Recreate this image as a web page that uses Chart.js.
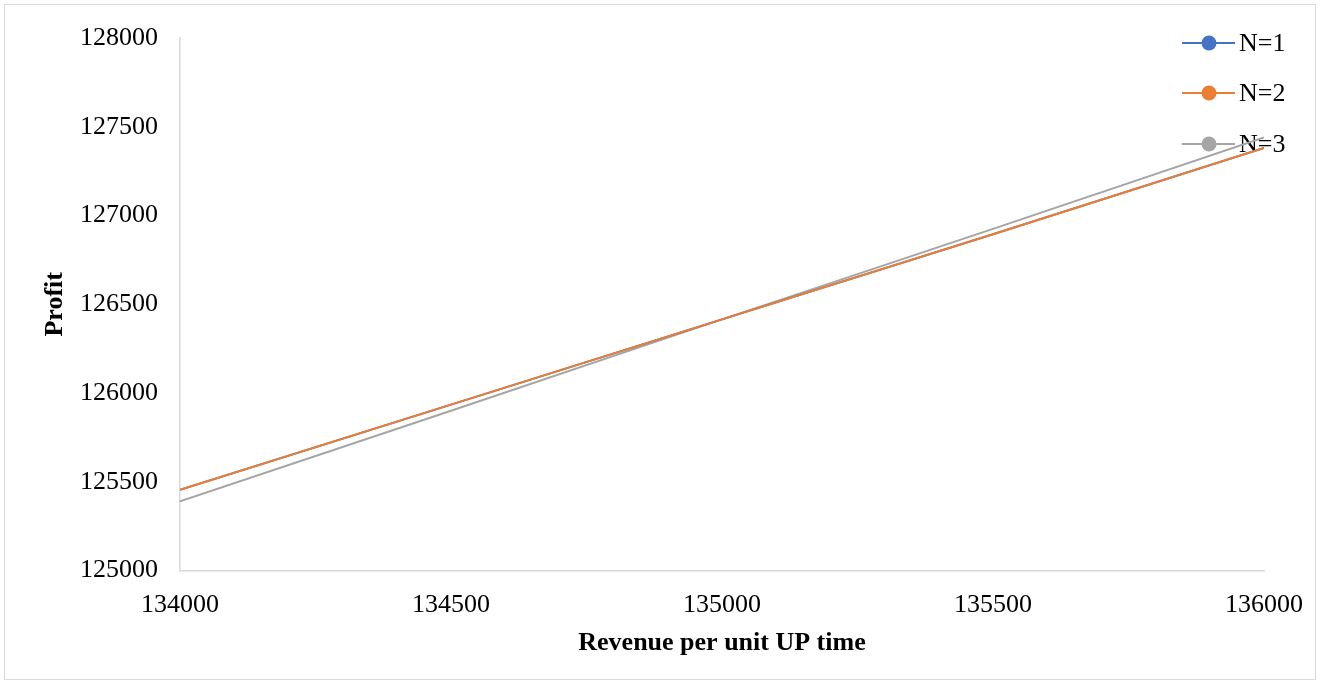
<!DOCTYPE html>
<html>
<head>
<meta charset="utf-8">
<script src="https://cdn.jsdelivr.net/npm/chart.js@4.4.1/dist/chart.umd.min.js"></script>
<style>
  html, body { margin: 0; padding: 0; background: #fff; }
  #wrap { position: relative; width: 1322px; height: 684px; }
  #frame { position: absolute; left: 4px; top: 4px; width: 1312px; height: 676px; border: 1px solid #d9d9d9; box-sizing: border-box; pointer-events: none; }
</style>
</head>
<body>
<div id="wrap">
  <canvas id="chart" width="1322" height="684"></canvas>
  <div id="frame"></div>
</div>
<script>
// revenue per unit UP time (x) and profit per policy
const revenue = [134000, 134500, 135000, 135500, 136000];
const profitN1 = [125455, 125935, 126415, 126895, 127380];
const profitN2 = [125455, 125935, 126415, 126895, 127380];
const profitN3 = [125390, 125900, 126415, 126925, 127440];

const seriesNames = ['N=1', 'N=2', 'N=3'];
const seriesColors = ['#4472c4', '#ed7d31', '#a5a5a5'];
const drawOrder = [1, 0, 2]; // N=2 ends up on top
const xTicks = [134000, 134500, 135000, 135500, 136000];
const yTicks = [125000, 125500, 126000, 126500, 127000, 127500, 128000];

const FONT = '"Liberation Serif", "Times New Roman", serif';
const FS = 26;

function toPoints(ys) {
    return revenue.map((x, i) => ({ x: x, y: ys[i] }));
}

// legend drawn inside the plot area, under the lines
const innerLegend = {
    id: 'innerLegend',
    beforeDatasetsDraw(chart) {
        const ctx = chart.ctx;
        const right = chart.chartArea.right;
        const rows = [43, 93, 144];
        ctx.save();
        seriesNames.forEach((name, i) => {
            const y = rows[i];
            ctx.strokeStyle = seriesColors[i];
            ctx.lineWidth = 2;
            ctx.beginPath();
            ctx.moveTo(right - 82, y);
            ctx.lineTo(right - 29, y);
            ctx.stroke();
            ctx.fillStyle = seriesColors[i];
            ctx.beginPath();
            ctx.arc(right - 55, y, 7.5, 0, Math.PI * 2);
            ctx.fill();
            ctx.fillStyle = '#000';
            ctx.font = FS + 'px ' + FONT;
            ctx.textBaseline = 'middle';
            ctx.textAlign = 'left';
            ctx.fillText(name, right - 25, y + 1);
        });
        ctx.restore();
    }
};

const datasets = [profitN1, profitN2, profitN3].map((ys, i) => ({
    label: seriesNames[i],
    data: toPoints(ys),
    order: drawOrder[i],
    borderColor: seriesColors[i],
    backgroundColor: seriesColors[i],
    borderWidth: 2,
    pointRadius: 0,
    tension: 0
}));

new Chart(document.getElementById('chart'), {
    type: 'line',
    data: { datasets: datasets },
    options: {
        responsive: false,
        animation: false,
        layout: { padding: { left: 40, right: 58, top: 38, bottom: 25 } },
        plugins: {
            legend: { display: false },
            tooltip: { enabled: false }
        },
        scales: {
            x: {
                type: 'linear',
                min: xTicks[0],
                max: xTicks[xTicks.length - 1],
                afterBuildTicks: axis => { axis.ticks = xTicks.map(v => ({ value: v })); },
                grid: { display: false, drawTicks: false },
                border: { color: '#d9d9d9', width: 1.5 },
                ticks: {
                    color: '#000',
                    font: { family: FONT, size: FS },
                    padding: 19,
                    maxRotation: 0,
                    callback: v => String(v)
                },
                title: {
                    display: true,
                    text: 'Revenue per unit UP time',
                    color: '#000',
                    font: { family: FONT, size: FS, weight: 'bold' },
                    padding: { top: -12, bottom: 0 }
                }
            },
            y: {
                min: yTicks[0],
                max: yTicks[yTicks.length - 1],
                afterBuildTicks: axis => { axis.ticks = yTicks.map(v => ({ value: v })); },
                afterFit: axis => { axis.width = 140; },
                grid: { display: false, drawTicks: false },
                border: { color: '#d9d9d9', width: 1.5 },
                ticks: {
                    color: '#000',
                    font: { family: FONT, size: FS },
                    padding: 22,
                    callback: v => String(v)
                },
                title: {
                    display: true,
                    text: 'Profit',
                    color: '#000',
                    font: { family: FONT, size: FS, weight: 'bold' },
                    padding: { top: 0, bottom: 0 }
                }
            }
        }
    },
    plugins: [innerLegend]
});
</script>
</body>
</html>
